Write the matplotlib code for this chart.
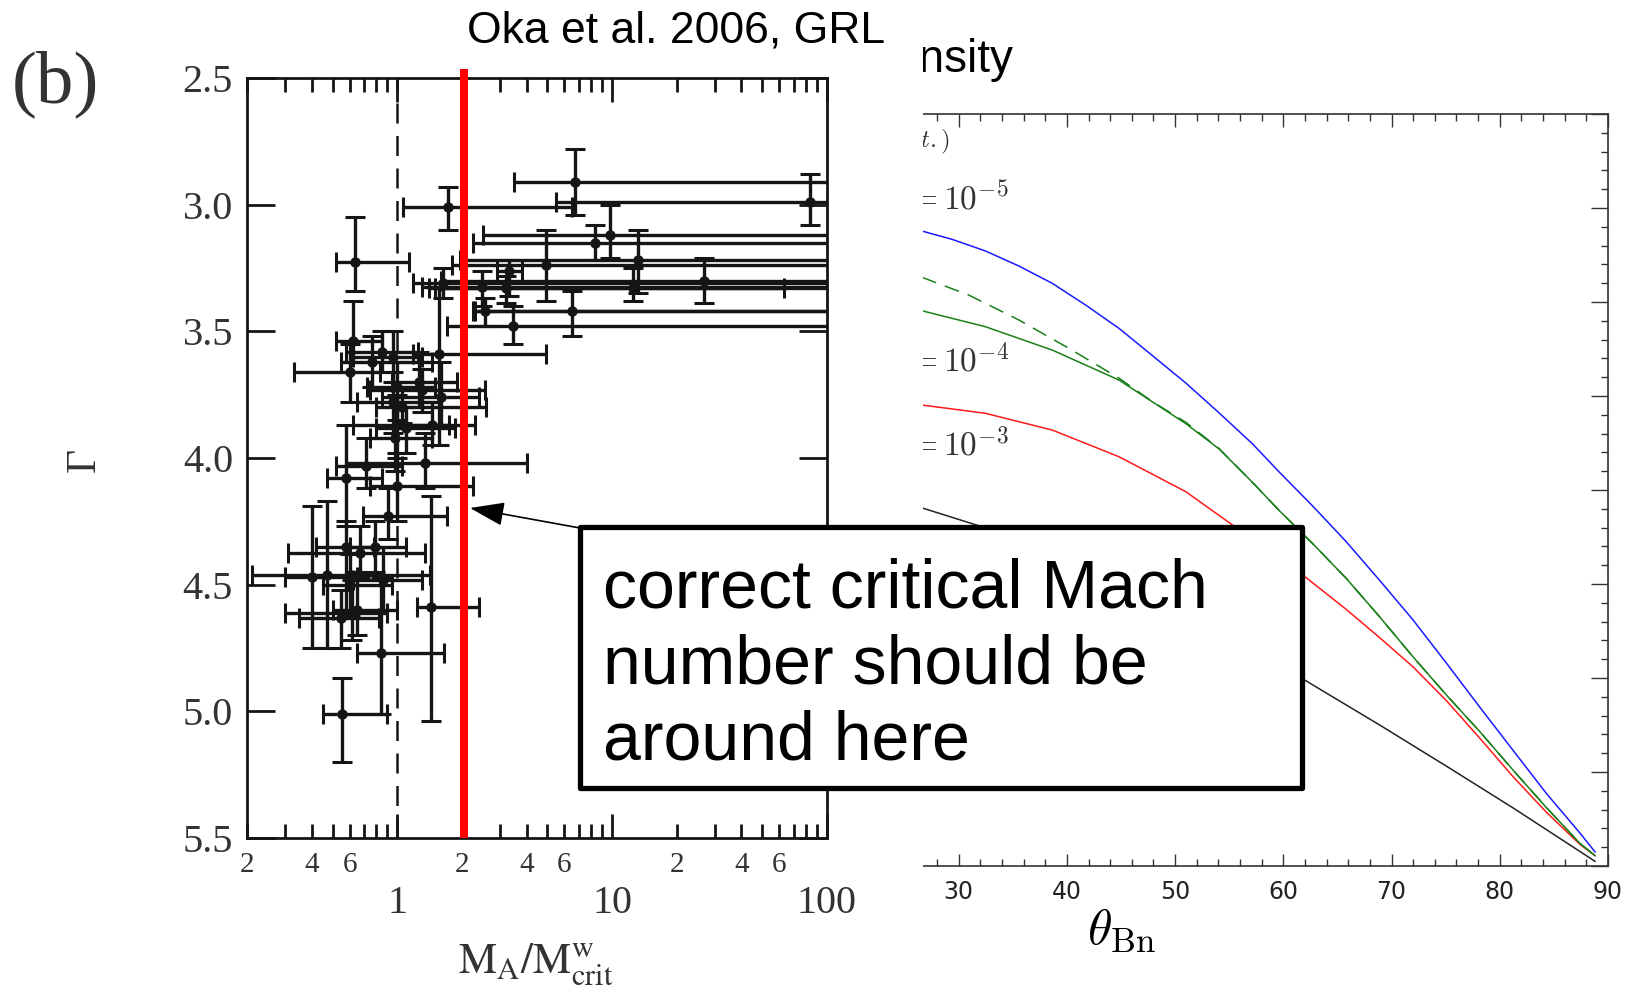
import numpy as np
import matplotlib
matplotlib.use('Agg')
import matplotlib.pyplot as plt
import matplotlib.transforms as mtrans
from matplotlib.patches import Rectangle, FancyArrowPatch
from matplotlib.ticker import FixedLocator, FixedFormatter

# ---- left panel (Oka et al. 2006): spectral index vs normalised Mach number ----
# x = M_A/M_crit^w, with asymmetric error bars (lower, upper); g = Gamma
mach = [6.7, 83, 1.72, 9.8, 8.3, 4.9, 13.2, 3.3, 1.63, 2.47, 3.2, 12.5, 26.7, 2.57, 6.5, 3.45, 1.57,
        0.636, 0.62, 0.60, 0.76, 0.96, 1.26, 0.85, 0.96, 1.0, 1.0, 1.1, 1.45, 1.3, 1.6, 0.98, 1.05,
        0.715, 1.35, 0.577, 1.0, 0.905, 0.67, 0.79, 0.47, 0.60, 0.86, 1.44, 0.615, 0.84, 0.553,
        0.40, 0.55, 0.58, 0.65]
mach_lo = [3.5, 5.5, 1.06, 2.5, 2.25, 1.8, 1.95, 2.9, 1.18, 1.3, 1.5, 1.4, 1.6, 2.25, 2.3, 1.7, 1.18,
           0.52, 0.52, 0.33, 0.55, 0.62, 0.95, 0.58, 0.65, 0.72, 0.62, 0.80, 1.10, 0.75, 0.85, 0.75, 0.80,
           0.52, 0.58, 0.47, 0.75, 0.69, 0.31, 0.60, 0.21, 0.45, 0.62, 1.24, 0.30, 0.65, 0.45,
           0.30, 0.35, 0.42, 0.50]
mach_hi = [150, 150, 6.5, 150, 150, 150, 150, 3.8, 150, 150, 150, 63, 150, 150, 150, 150, 4.9,
           1.13, 0.85, 0.83, 1.45, 1.30, 1.90, 1.25, 1.60, 1.50, 1.75, 1.85, 2.30, 2.55, 2.40, 1.45, 2.60,
           1.05, 4.0, 0.85, 2.25, 1.70, 1.35, 1.10, 1.42, 0.95, 1.30, 2.40, 0.90, 1.65, 0.90,
           0.65, 0.82, 0.78, 1.00]
gam = [2.91, 2.99, 3.01, 3.12, 3.15, 3.24, 3.22, 3.26, 3.31, 3.325, 3.33, 3.33, 3.30, 3.42, 3.42, 3.48, 3.59,
       3.226, 3.54, 3.66, 3.62, 3.60, 3.70, 3.58, 3.78, 3.72, 3.87, 3.88, 3.87, 3.73, 3.76, 3.92, 3.80,
       4.03, 4.02, 4.08, 4.11, 4.23, 4.375, 4.35, 4.46, 4.50, 4.48, 4.59, 4.61, 4.77, 5.01,
       4.47, 4.63, 4.35, 4.60]
gam_lo = [2.78, 2.88, 2.93, 3.00, 3.08, 3.10, 3.10, 3.22, 3.25, 3.26, 3.28, 3.25, 3.21, 3.37, 3.34, 3.40, 3.33,
          3.05, 3.38, 3.55, 3.52, 3.50, 3.58, 3.50, 3.66, 3.62, 3.75, 3.80, 3.78, 3.65, 3.62, 3.80, 3.72,
          3.92, 3.90, 3.87, 3.98, 4.12, 4.27, 4.25, 4.17, 4.38, 4.35, 4.15, 4.48, 4.47, 4.87,
          4.19, 4.52, 4.25, 4.45]
gam_hi = [3.04, 3.08, 3.10, 3.21, 3.22, 3.38, 3.35, 3.36, 3.37, 3.40, 3.39, 3.38, 3.39, 3.48, 3.52, 3.55, 3.95,
          3.34, 3.62, 3.78, 3.72, 3.70, 3.80, 3.66, 3.90, 3.85, 4.00, 3.98, 3.95, 3.82, 3.87, 4.05, 3.86,
          4.12, 4.12, 4.27, 4.25, 4.32, 4.47, 4.45, 4.75, 4.62, 4.60, 5.04, 4.72, 5.01, 5.20,
          4.75, 4.75, 4.60, 4.70]
mach_crit_line = 1.0
mach_correct = 2.05
gamma_ticks = [2.5, 3.0, 3.5, 4.0, 4.5, 5.0, 5.5]

# ---- right panel: curves vs theta_Bn ----
th_blue = [26.6, 29.38, 32.47, 35.56, 38.64, 41.73, 44.81, 47.90, 50.99, 54.07, 57.16, 59.63,
           62.71, 65.81, 68.89, 71.97, 75.06, 78.15, 81.23, 84.32, 87.41, 88.8]
v_blue = [6.755, 6.667, 6.543, 6.383, 6.199, 5.968, 5.72, 5.43, 5.138, 4.82, 4.49, 4.19,
          3.83, 3.45, 3.04, 2.62, 2.16, 1.69, 1.23, 0.77, 0.35, 0.15]
th_green = [26.6, 32.47, 38.64, 44.81, 50.99, 54.07, 57.16, 59.63, 62.71, 65.81, 68.89, 71.97,
            75.06, 78.15, 81.23, 84.32, 87.41, 88.8]
v_green = [5.907, 5.737, 5.489, 5.17, 4.706, 4.436, 4.08, 3.78, 3.43, 3.06, 2.652, 2.227,
           1.82, 1.43, 1.02, 0.62, 0.24, 0.11]
th_green_d = [26.6, 30.93, 35.56, 40.19, 44.81, 47.90, 50.99, 54.07, 57.16, 59.63, 62.71, 65.81,
              68.89, 71.97, 75.06, 78.15, 81.23, 84.32, 87.41, 88.8]
v_green_d = [6.263, 6.074, 5.809, 5.507, 5.19, 4.94, 4.72, 4.44, 4.08, 3.78, 3.43, 3.06,
             2.652, 2.227, 1.82, 1.43, 1.02, 0.62, 0.24, 0.11]
th_red = [26.6, 32.47, 38.64, 44.81, 50.99, 55.3, 61.79, 65.81, 68.89, 71.97, 75.06, 78.15,
          81.23, 84.32, 87.41, 88.8]
v_red = [4.904, 4.816, 4.638, 4.354, 3.982, 3.628, 3.096, 2.73, 2.43, 2.12, 1.76, 1.36,
         0.95, 0.57, 0.23, 0.11]
th_black = [26.6, 31.85, 61.8, 68.9, 75.1, 81.2, 88.8]
v_black = [3.81, 3.62, 1.99, 1.50, 1.06, 0.62, 0.05]
curve_labels = [r'$\eta = 10^{-5}$', r'$\eta = 10^{-4}$', r'$\eta = 10^{-3}$']
label_pos = [(34.63, 6.98), (34.63, 5.26), (34.63, 4.37)]

W, H = 1637, 990
fig = plt.figure(figsize=(W / 100, H / 100), dpi=100)


def fx(px):
    return px / W


def fy(py):
    return 1 - py / H


# right figure (partly covered by the left one)
ax2 = fig.add_axes([fx(634), fy(866), fx(1608) - fx(634), fy(114) - fy(866)], zorder=1)
ax2.plot(th_black, v_black, color='#222222', lw=1.1)
ax2.plot(th_red, v_red, color='#ff1a1a', lw=1.1)
ax2.plot(th_green_d, v_green_d, color='#1a801a', lw=1.1, ls=(0, (10, 6)))
ax2.plot(th_green, v_green, color='#1a801a', lw=1.1)
ax2.plot(th_blue, v_blue, color='#1a1aff', lw=1.1)
ax2.set_xlim(0, 90)
ax2.set_ylim(0, 8)
ax2.set_xticks(range(30, 91, 10))
ax2.set_xticks(np.arange(0, 91, 2), minor=True)
ax2.set_yticks(range(0, 9))
ax2.set_yticks(np.arange(0, 8.01, 0.2), minor=True)
ax2.tick_params(which='both', direction='in', top=True, right=True, left=False,
                labelleft=False, width=1, color='#333333')
ax2.tick_params(which='major', length=9)
ax2.tick_params(which='minor', length=5)
ax2.tick_params(axis='y', which='major', length=12)
ax2.tick_params(axis='x', labelsize=17, pad=10, labelcolor='#222222')
ax2.spines['left'].set_visible(False)
for s in ['top', 'bottom', 'right']:
    ax2.spines[s].set_linewidth(1.2)
    ax2.spines[s].set_color('#333333')
ax2.set_xlabel(r'$\theta_{\rm Bn}$', fontsize=36, math_fontfamily='cm', labelpad=2)
for lab, (tx, ty) in zip(curve_labels, label_pos):
    ax2.text(tx, ty, lab, fontsize=24, math_fontfamily='cm', ha='right', va='baseline', color='#333333')
ax2.text(29.2, 7.64, r'$(const.)$', fontsize=18, math_fontfamily='cm', ha='right', va='baseline',
         color='#333333')
# title of the right figure, placed in pixel x / figure y
title_tr = mtrans.blended_transform_factory(mtrans.Affine2D().scale(1 / W, 1) + fig.transFigure,
                                            fig.transFigure)
ax2.text(1013, fy(72), 'Density', transform=title_tr,
         fontsize=33, family='Liberation Sans', ha='right', va='baseline')

# white background of the left figure pasted on top
fig.add_artist(Rectangle((0, 0), fx(923), 1, transform=fig.transFigure,
                         facecolor='white', edgecolor='none', zorder=2))

# left figure
ax = fig.add_axes([fx(247), fy(838), fx(827) - fx(247), fy(78) - fy(838)], zorder=3)
m = np.array(mach)
g = np.array(gam)
ax.errorbar(m, g, xerr=[m - np.array(mach_lo), np.array(mach_hi) - m],
            yerr=[g - np.array(gam_lo), np.array(gam_hi) - g],
            fmt='o', color='#151515', ms=6.5, elinewidth=2.4, capsize=7.5, capthick=2.2)
ax.axvline(mach_crit_line, color='#151515', lw=1.8, ls=(0, (8, 5)))
ax.plot([mach_correct, mach_correct], [2.464, 5.5], color='red', lw=5.8,
        solid_capstyle='butt', clip_on=False, zorder=5)
ax.set_xscale('log')
ax.set_xlim(0.2, 100)
ax.set_ylim(5.5, 2.5)
ax.xaxis.set_major_locator(FixedLocator([1, 10, 100]))
ax.xaxis.set_major_formatter(FixedFormatter(['1', '10', '100']))
minor = []
minor_lab = []
for dec in [0.1, 1, 10]:
    for k in range(2, 10):
        minor.append(k * dec)
        minor_lab.append(str(k) if k in (2, 4, 6) else '')
ax.xaxis.set_minor_locator(FixedLocator(minor))
ax.xaxis.set_minor_formatter(FixedFormatter(minor_lab))
ax.set_yticks(gamma_ticks)
ax.set_yticklabels(['%.1f' % v for v in gamma_ticks])
ax.tick_params(which='both', direction='in', top=True, right=True, width=2, color='#151515',
               labelfontfamily='Liberation Serif', labelcolor='#333333')
ax.tick_params(axis='x', which='major', length=17, labelsize=29, pad=34)
ax.tick_params(axis='x', which='minor', length=10, labelsize=21, pad=10)
ax.tick_params(axis='y', which='major', length=20, labelsize=29, pad=10)
for s in ax.spines.values():
    s.set_linewidth(2)
    s.set_color('#151515')

fig.text(fx(84), fy(460), 'Γ', rotation=90, fontsize=30, family='Liberation Serif',
         ha='center', va='center', color='#333333', zorder=4)
fig.text(fx(536), fy(964), r'$\mathrm{M_A/M^{w}_{crit}}$', math_fontfamily='stix', fontsize=31,
         ha='center', va='center', color='#333333', zorder=4)
fig.text(fx(55), fy(84), '(b)', family='Liberation Serif', fontsize=54,
         ha='center', va='center', color='#333333', zorder=4)
fig.text(fx(676), fy(43), 'Oka et al. 2006, GRL', family='Liberation Sans', fontsize=32,
         ha='center', va='baseline', zorder=4)

# annotation box and arrow
fig.add_artist(Rectangle((fx(580), fy(788)), fx(1302) - fx(580), fy(527) - fy(788),
                         transform=fig.transFigure, facecolor='white', edgecolor='black',
                         lw=3.8, joinstyle='round', zorder=5))
for txt, base in zip(['correct critical Mach', 'number should be', 'around here'], [608, 684, 759]):
    fig.text(fx(603), fy(base), txt, family='Liberation Sans', fontsize=49,
             ha='left', va='baseline', zorder=6)
fig.add_artist(FancyArrowPatch(posA=(fx(580), fy(528)), posB=(fx(470), fy(508)),
                               transform=fig.transFigure, color='black', lw=1.2,
                               arrowstyle='-|>,head_length=1.07,head_width=0.37',
                               mutation_scale=20, shrinkA=0, shrinkB=0, zorder=6))

fig.savefig('out.png', dpi=100)
